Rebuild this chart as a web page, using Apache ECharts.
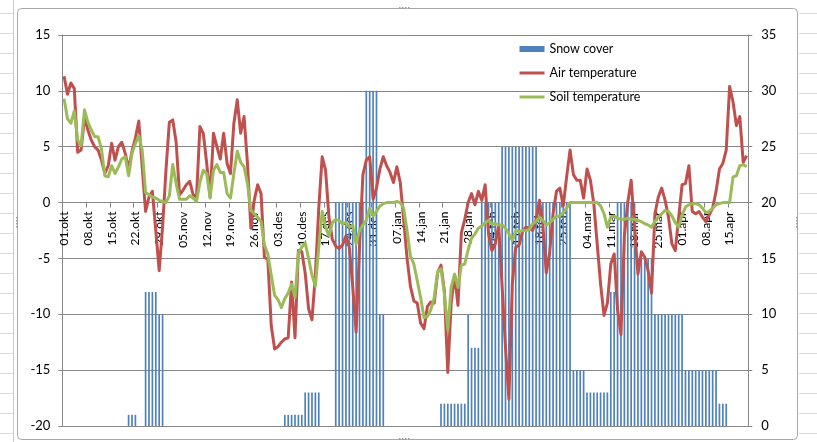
<!DOCTYPE html>
<html><head><meta charset="utf-8">
<script src="https://cdn.jsdelivr.net/npm/echarts@6/dist/echarts.min.js"></script>
<style>html,body{margin:0;padding:0;background:#fff;}#c{width:817px;height:442px;}</style>
</head><body><div id="c"></div>
<script>
const monthNames = ['okt','nov','des','jan','feb','mar','apr'];
const monthDays  = [31,30,31,31,28,31,20];
const categories = [];
for (let m = 0; m < monthNames.length; m++) {
  for (let d = 1; d <= monthDays[m]; d++) categories.push(String(d).padStart(2,'0') + '.' + monthNames[m]);
}

const snowCover = [
 0,0,0,0,0,0,0,0,0,0,
 0,0,0,0,0,0,0,0,0,1,
 1,1,0,0,12,12,12,12,10,10,
 0,0,0,0,0,0,0,0,0,0,
 0,0,0,0,0,0,0,0,0,0,
 0,0,0,0,0,0,0,0,0,0,
 0,0,0,0,0,1,1,1,1,1,
 1,3,3,3,3,3,0,0,0,0,
 20,20,20,20,20,20,20,20,20,30,
 30,30,30,10,10,0,0,0,0,0,
 0,0,0,0,0,0,0,0,0,0,
 0,2,2,2,2,2,2,2,2,10,
 7,7,7,20,20,20,20,20,20,25,
 25,25,25,25,25,25,25,25,25,25,
 20,20,20,20,20,20,20,20,20,20,
 5,5,5,5,3,3,3,3,3,3,
 3,12,12,20,20,20,20,20,20,15,
 15,15,15,15,10,10,10,10,10,10,
 10,10,10,5,5,5,5,5,5,5,
 5,5,5,2,2,2,0,0,0,0,
 0,0
];

const airTemp = [
 11.3,9.7,10.7,10.2,4.5,4.7,7.6,6.5,5.6,5.0,
 4.7,3.8,2.6,3.3,5.3,3.8,5.0,5.4,4.4,3.0,
 4.6,5.8,7.3,3.2,-0.8,0.5,1.0,-2.5,-6.1,-2.2,
 2.9,7.2,7.4,5.4,0.7,1.1,1.6,1.9,0.7,0.5,
 6.8,6.2,3.5,0.5,6.2,5.0,3.9,6.2,3.5,2.6,
 7.1,9.2,6.2,7.7,3.5,-2.3,0.2,1.6,0.8,-4.9,
 -5.1,-11.0,-13.1,-12.9,-12.5,-12.2,-12.1,-7.1,-12.1,-4.3,
 -4.4,-6.3,-9.5,-10.5,-6.5,-0.5,4.1,2.9,-1.3,-3.3,
 -3.9,-4.1,-3.8,-3.0,-4.0,-7.5,-11.6,-4.0,2.5,3.8,
 4.1,0.3,1.3,3.0,4.1,3.3,2.7,1.8,3.2,1.8,
 -1.5,-5.0,-7.5,-8.8,-9.0,-10.8,-11.3,-9.3,-8.9,-9.0,
 -6.3,-5.6,-7.9,-15.2,-9.0,-6.5,-9.2,-2.7,-1.5,0.0,
 0.8,-0.2,1.0,0.2,1.6,-2.8,-4.3,-3.7,-2.0,-7.5,
 -13.0,-17.6,-7.3,-4.0,-3.8,-2.6,-2.2,-2.3,-2.5,-1.5,
 0.2,-2.0,-6.3,-4.5,-1.0,1.0,1.3,-0.3,2.3,4.7,
 2.5,2.0,2.0,0.4,3.0,2.0,-0.1,-3.7,-7.3,-10.1,
 -9.0,-5.5,-4.6,-9.6,-11.8,-3.0,0.0,2.0,-2.2,-6.4,
 -4.4,-4.9,-6.1,-8.1,-1.0,0.5,1.3,0.2,-1.3,-3.7,
 -4.3,-1.3,1.6,1.7,3.3,-0.8,-1.0,-0.8,-1.3,-1.7,
 -1.1,-0.5,1.0,3.0,3.5,4.7,10.4,9.0,6.9,7.7,
 3.6,4.2
];

const soilTemp = [
 9.3,7.5,7.1,8.2,5.6,5.1,8.3,7.2,6.5,5.9,
 5.9,4.8,2.4,2.3,3.3,2.6,3.2,3.9,4.1,2.4,
 4.4,5.3,6.0,4.7,0.9,0.7,0.5,0.4,0.2,0.1,
 0.0,0.6,3.4,1.7,0.3,0.3,0.3,0.6,0.4,0.1,
 1.8,2.9,2.6,0.4,2.9,3.4,2.7,2.7,0.8,0.4,
 2.6,4.6,3.6,3.2,1.7,-0.7,-1.0,-1.3,-1.7,-3.8,
 -4.6,-6.5,-8.3,-8.7,-9.4,-8.6,-8.1,-7.3,-8.5,-4.5,
 -4.0,-3.6,-5.0,-6.5,-7.5,-4.0,-0.8,-2.2,-3.0,-1.8,
 -1.5,-1.6,-1.9,-1.8,-2.2,-2.0,-3.7,-2.5,-2.0,-1.6,
 -0.5,-1.2,-0.8,-0.3,-0.1,0.0,0.0,0.0,0.1,0.0,
 -0.5,-2.5,-4.8,-5.5,-7.0,-8.5,-10.3,-10.2,-9.6,-8.5,
 -6.2,-5.9,-8.2,-11.4,-7.6,-6.4,-7.6,-5.6,-5.5,-4.2,
 -3.2,-2.8,-2.3,-2.1,-1.8,-1.6,-1.9,-1.9,-2.0,-2.0,
 -2.3,-2.8,-3.4,-2.5,-2.6,-2.5,-2.5,-2.4,-1.9,-1.7,
 -1.3,-1.6,-2.0,-1.8,-1.5,-1.2,-1.2,-0.9,-0.5,0.0,
 0.0,0.0,0.0,0.0,0.0,0.0,0.0,0.0,-0.3,-1.0,
 -2.2,-1.3,-1.2,-1.4,-1.5,-1.5,-1.4,-1.5,-1.5,-1.6,
 -1.7,-1.9,-2.0,-2.2,-1.7,-1.3,-1.0,-0.7,-0.8,-1.2,
 -1.8,-2.2,-1.1,-0.4,-0.2,-0.1,-0.1,-0.2,-0.5,-0.9,
 -0.8,-0.5,-0.2,-0.1,0.0,0.0,0.0,2.3,2.4,3.3,
 3.4,3.2
];

const seriesNames = ['Snow cover','Air temperature','Soil temperature'];
const seriesColors = ['#4F81BD','#C0504D','#9BBB59'];
const leftAxis = {min:-20, max:15, step:5};
const rightAxis = {min:0, max:35, step:5};

const FONT = 'Lato';
const AXIS = '#868686';
const GRID_TOP = 35, GRID_BOTTOM_Y = 426;
// the category axis crosses the temperature axis at 0
const zeroOffset = -(GRID_BOTTOM_Y - GRID_TOP) * (0 - leftAxis.min) / (leftAxis.max - leftAxis.min);

// spreadsheet background decoration
const deco = [];
for (let y = 13; y < 442; y += 20) {
  deco.push({type:'line', shape:{x1:0,y1:y+0.5,x2:13,y2:y+0.5}, style:{stroke:'#DADCDD',lineWidth:1}, silent:true, z:-10});
  deco.push({type:'line', shape:{x1:799,y1:y+0.5,x2:817,y2:y+0.5}, style:{stroke:'#DADCDD',lineWidth:1}, silent:true, z:-10});
}
deco.push({type:'line', shape:{x1:13.5,y1:0,x2:13.5,y2:442}, style:{stroke:'#C9CBCE',lineWidth:1}, silent:true, z:-9});
deco.push({type:'rect', shape:{x:17.5,y:8.5,width:780,height:431,r:4}, style:{fill:'#fff',stroke:'#A6A8AB',lineWidth:1}, silent:true, z:-8});
// resize handles of the chart frame
const handles = [[400,8,1,0],[400,439,1,0],[17,218,0,1],[797,218,0,1]];
handles.forEach(([hx,hy,dx,dy]) => {
  for (let k = 0; k < 4; k++) {
    deco.push({type:'rect', shape:{x:hx-1+k*3*dx, y:hy-1+k*3*dy, width:1.5, height:1.5},
      style:{fill:'#9A9CA0'}, silent:true, z:-7});
  }
});

const lineLegendStyle = (c) => ({
  itemStyle:{color:'rgba(0,0,0,0)', borderWidth:0, opacity:0},
  lineStyle:{color:c, width:3}
});

const chart = echarts.init(document.getElementById('c'), null, {renderer:'canvas'});
chart.setOption({
  animation:false,
  textStyle:{fontFamily:FONT},
  graphic: deco,
  grid:{left:62.4, right:68.7, top:GRID_TOP, bottom:442-GRID_BOTTOM_Y, containLabel:false, outerBoundsMode:'none'},
  legend:{
    orient:'vertical', left:518, top:42, padding:0, itemWidth:25, itemHeight:6, itemGap:10,
    textStyle:{fontFamily:FONT, fontSize:12.5, color:'#000', lineHeight:14},
    data:[
      {name:seriesNames[0], icon:'rect'},
      Object.assign({name:seriesNames[1]}, lineLegendStyle(seriesColors[1])),
      Object.assign({name:seriesNames[2]}, lineLegendStyle(seriesColors[2]))
    ]
  },
  xAxis:{
    type:'category', data:categories, boundaryGap:true, position:'bottom',
    offset: zeroOffset,
    axisLine:{show:true, onZero:false, lineStyle:{color:AXIS,width:1}},
    axisTick:{show:true, interval:6, length:5, lineStyle:{color:AXIS}},
    axisLabel:{interval:6, rotate:90, fontSize:12, color:'#000', margin:9, fontFamily:FONT},
    splitLine:{show:false}
  },
  yAxis:[
    {type:'value', min:leftAxis.min, max:leftAxis.max, interval:leftAxis.step, position:'left',
     axisLine:{show:true, lineStyle:{color:AXIS}},
     axisTick:{show:true, length:4, lineStyle:{color:AXIS}},
     axisLabel:{fontSize:13, color:'#000', margin:12, fontFamily:FONT},
     splitLine:{show:true, lineStyle:{color:AXIS, width:1}}},
    {type:'value', min:rightAxis.min, max:rightAxis.max, interval:rightAxis.step, position:'right',
     axisLine:{show:true, lineStyle:{color:AXIS}},
     axisTick:{show:true, length:4, lineStyle:{color:AXIS}},
     axisLabel:{fontSize:13, color:'#000', margin:13, fontFamily:FONT},
     splitLine:{show:false}}
  ],
  series:[
    {name:seriesNames[0], type:'bar', yAxisIndex:1, data:snowCover, barWidth:'50%',
     itemStyle:{color:seriesColors[0]}, z:2},
    {name:seriesNames[1], type:'line', yAxisIndex:0, data:airTemp, symbol:'none', showSymbol:false,
     lineStyle:{width:3, color:seriesColors[1], join:'round'}, itemStyle:{color:seriesColors[1]}, z:3},
    {name:seriesNames[2], type:'line', yAxisIndex:0, data:soilTemp, symbol:'none', showSymbol:false,
     lineStyle:{width:3, color:seriesColors[2], join:'round'}, itemStyle:{color:seriesColors[2]}, z:4}
  ]
});
</script>
</body></html>
